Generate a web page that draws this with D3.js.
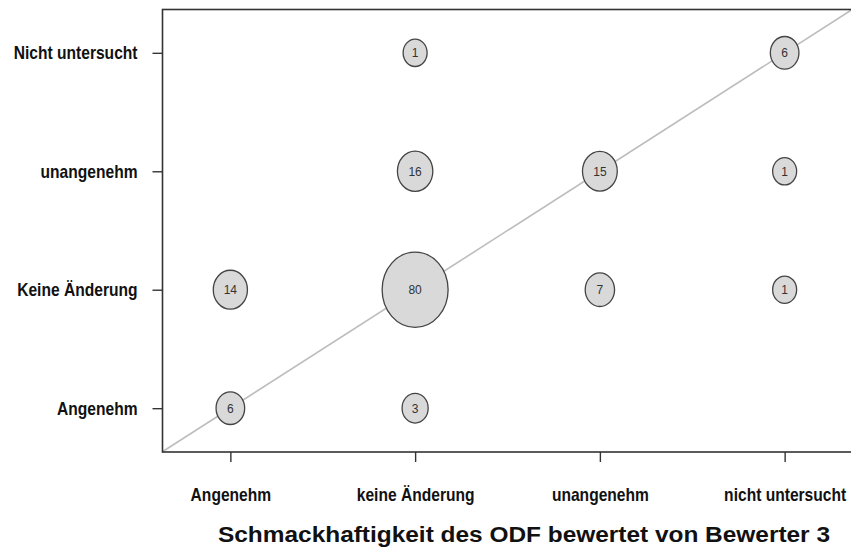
<!DOCTYPE html>
<html>
<head>
<meta charset="utf-8">
<script src="https://cdn.jsdelivr.net/npm/d3@7"></script>
<style>
  body { margin: 0; background: #fff; }
  .lab { font-family: "Liberation Sans", Arial, sans-serif; font-weight: bold; font-size: 19px; fill: #111; }
  .title { font-family: "Liberation Sans", Arial, sans-serif; font-weight: bold; font-size: 22px; fill: #111; }
  .cnt { font-family: "Liberation Sans", Arial, sans-serif; font-size: 12px; fill: #333; }
</style>
</head>
<body>
<div id="chart"></div>
<script>
// categories
var xCats = ['Angenehm', 'keine Änderung', 'unangenehm', 'nicht untersucht'];
var yCats = ['Angenehm', 'Keine Änderung', 'unangenehm', 'Nicht untersucht'];
// cells: x category index, y category index, count
var cellX = [0, 1, 0, 1, 2, 3, 1, 2, 3, 1, 3];
var cellY = [0, 0, 1, 1, 1, 1, 2, 2, 2, 3, 3];
var cellN = [6, 3, 14, 80, 7, 1, 16, 15, 1, 1, 6];

var svg = d3.select('#chart').append('svg').attr('width', 851).attr('height', 550);

var x = d3.scaleLinear().domain([0.63, 4.37]).range([162, 853]);
var y = d3.scaleLinear().domain([0.63, 4.37]).range([452, 9]);
var r = d3.scalePow().exponent(0.75).domain([1, 80]).range([12, 33]);

// narrow bold look: squeeze labels horizontally
function narrow(sel) {
  sel.each(function () {
    var w = this.getComputedTextLength();
    d3.select(this).attr('textLength', w * 0.82).attr('lengthAdjust', 'spacingAndGlyphs');
  });
}

// diagonal
svg.append('line').attr('x1', x(0.63)).attr('y1', y(0.63)).attr('x2', x(4.37)).attr('y2', y(4.37))
  .attr('stroke', '#bdbdbd').attr('stroke-width', 1.6);

// frame
svg.append('rect').attr('x', 162.5).attr('y', 9.5).attr('width', 700).attr('height', 442.5)
  .attr('fill', 'none').attr('stroke', '#333').attr('stroke-width', 1.6);

// y axis
var yAxis = d3.axisLeft(y).tickValues([1, 2, 3, 4]).tickSize(10).tickPadding(15)
  .tickFormat(function (d) { return yCats[d - 1]; });
var gy = svg.append('g').attr('transform', 'translate(162.5,0)').call(yAxis);
gy.select('.domain').remove();
gy.attr('font-size', null).attr('font-family', null);
gy.selectAll('line').attr('stroke', '#333').attr('stroke-width', 1.4);
gy.selectAll('text').attr('class', 'lab').attr('fill', null).call(narrow);

// x axis
var xAxis = d3.axisBottom(x).tickValues([1, 2, 3, 4]).tickSize(10).tickPadding(26)
  .tickFormat(function (d) { return xCats[d - 1]; });
var gx = svg.append('g').attr('transform', 'translate(0,452)').call(xAxis);
gx.select('.domain').remove();
gx.attr('font-size', null).attr('font-family', null);
gx.selectAll('line').attr('stroke', '#333').attr('stroke-width', 1.4);
gx.selectAll('text').attr('class', 'lab').attr('fill', null).call(narrow);

// bubbles
var cells = cellN.map(function (n, i) { return { x: cellX[i] + 1, y: cellY[i] + 1, n: n }; });
var g = svg.append('g').selectAll('g').data(cells).join('g')
  .attr('transform', function (d) { return 'translate(' + x(d.x) + ',' + y(d.y) + ')'; });
g.append('ellipse').attr('rx', function (d) { return r(d.n); }).attr('ry', function (d) { return r(d.n) * 1.14; })
  .attr('fill', '#d9d9d9').attr('stroke', '#444').attr('stroke-width', 1.3);
g.append('text').attr('class', 'cnt').attr('text-anchor', 'middle').attr('dy', '0.36em')
  .text(function (d) { return d.n; });

// title
svg.append('text').attr('class', 'title').attr('x', 524).attr('y', 542).attr('text-anchor', 'middle')
  .attr('textLength', 612).attr('lengthAdjust', 'spacingAndGlyphs')
  .text('Schmackhaftigkeit des ODF bewertet von Bewerter 3');
</script>
</body>
</html>
